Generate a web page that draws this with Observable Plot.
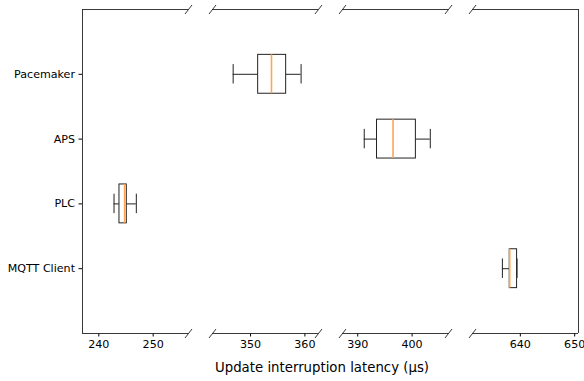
<!DOCTYPE html>
<html>
<head>
<meta charset="utf-8">
<script src="https://cdn.jsdelivr.net/npm/d3@7"></script>
<script src="https://cdn.jsdelivr.net/npm/@observablehq/plot@0.6"></script>
<style>
  html, body { margin: 0; padding: 0; background: white; }
  #chart { position: relative; width: 584px; height: 381px; font-family: "DejaVu Sans", sans-serif; }
  #chart svg { position: absolute; top: 0; }
  #xlabel { position: absolute; top: 360px; left: 322px; transform: translateX(-50%); white-space: nowrap;
            font-size: 13.3px; line-height: 16px; color: black; }
</style>
</head>
<body>
<div id="chart"><div id="xlabel">Update interruption latency (µs)</div></div>
<script>
const categories = ["Pacemaker", "APS", "PLC", "MQTT Client"];
const positions = [4, 3, 2, 1];
const whiskerLow = [346.8, 391.2, 242.8, 636.7];
const q1 = [351.4, 393.55, 243.8, 638.05];
const median = [353.85, 396.5, 244.75, 638.05];
const q3 = [356.55, 400.7, 245.15, 639.4];
const whiskerHigh = [359.3, 403.35, 246.9, 639.4];
const panelDomains = [[237.0, 256.5], [343.0, 362.5], [387.2, 406.7], [631.2, 650.7]];
const panelTicks = [[240, 250], [350, 360], [390, 400], [640, 650]];

const rows = categories.map((c, k) => ({
  cat: c, pos: positions[k], wlo: whiskerLow[k], q1: q1[k], med: median[k], q3: q3[k], whi: whiskerHigh[k]
}));

const slash = {draw(ctx) { ctx.moveTo(-3.5, 4.5); ctx.lineTo(3.5, -4.5); }};

const layout = [
  {left: 0, width: 200, ml: 82, mr: 12},
  {left: 200, width: 130, ml: 12, mr: 12},
  {left: 330, width: 130, ml: 12, mr: 12},
  {left: 460, width: 124, ml: 12, mr: 6}
];
const H = 0.3, C = 0.15;
const ink = "#222";
const chart = document.getElementById("chart");

panelDomains.forEach((dom, i) => {
  const L = layout[i];
  const d = rows.filter(r => r.med >= dom[0] && r.med <= dom[1]);
  const breaks = [];
  if (i > 0) breaks.push({x: dom[0], y: 0}, {x: dom[0], y: 5});
  if (i < panelDomains.length - 1) breaks.push({x: dom[1], y: 0}, {x: dom[1], y: 5});
  const marks = [
    Plot.ruleY([0], {stroke: ink, strokeWidth: 0.9}),
    Plot.ruleY([5], {stroke: ink, strokeWidth: 0.9})
  ];
  if (i === 0) marks.push(Plot.ruleX([dom[0]], {stroke: ink, strokeWidth: 0.9}));
  if (i === panelDomains.length - 1) marks.push(Plot.ruleX([dom[1]], {stroke: ink, strokeWidth: 0.9}));
  marks.push(
    Plot.ruleY(d, {y: "pos", x1: "wlo", x2: "q1", stroke: ink, strokeWidth: 1}),
    Plot.ruleY(d, {y: "pos", x1: "q3", x2: "whi", stroke: ink, strokeWidth: 1}),
    Plot.ruleX(d, {x: "wlo", y1: r => r.pos - C, y2: r => r.pos + C, stroke: ink, strokeWidth: 1}),
    Plot.ruleX(d, {x: "whi", y1: r => r.pos - C, y2: r => r.pos + C, stroke: ink, strokeWidth: 1}),
    Plot.rect(d, {x1: "q1", x2: "q3", y1: r => r.pos - H, y2: r => r.pos + H, fill: "none", stroke: ink, strokeWidth: 1}),
    Plot.ruleX(d, {x: "med", y1: r => r.pos - H, y2: r => r.pos + H, stroke: "#ffa552", strokeWidth: 1.6}),
    Plot.dot(breaks, {x: "x", y: "y", symbol: slash, r: 4, fill: "none", stroke: ink, strokeWidth: 0.9})
  );
  const svg = Plot.plot({
    width: L.width,
    height: 355,
    marginTop: 9,
    marginBottom: 22,
    marginLeft: L.ml,
    marginRight: L.mr,
    x: {domain: dom, ticks: panelTicks[i], tickSize: 3.5, tickPadding: 3, tickFormat: v => String(v), label: null},
    y: {domain: [0, 5], axis: i === 0 ? "left" : null, ticks: positions,
        tickFormat: v => categories[positions.indexOf(v)], tickSize: 3.5, tickPadding: 4, label: null},
    style: {fontFamily: "DejaVu Sans, sans-serif", fontSize: "11.1px", color: "black", background: "transparent", overflow: "visible"},
    marks
  });
  svg.style.left = L.left + "px";
  chart.appendChild(svg);
});
</script>
</body>
</html>
